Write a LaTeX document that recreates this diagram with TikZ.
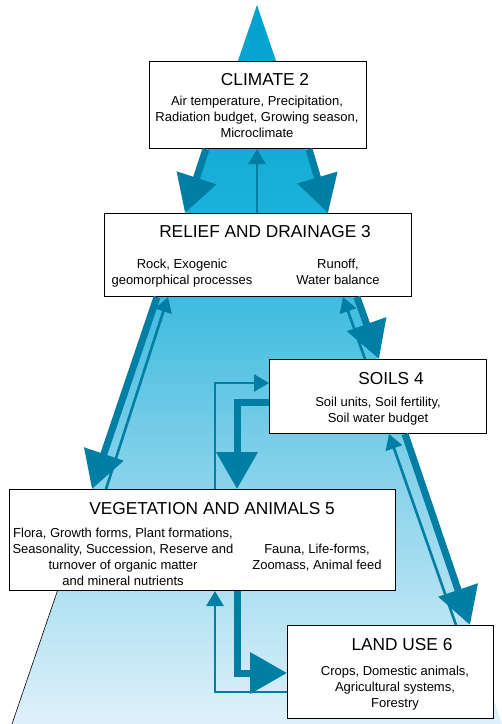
\documentclass[tikz,border=0pt]{standalone}
\usepackage{fontspec}
\setmainfont{Liberation Sans}
\usetikzlibrary{arrows.meta,calc}
\definecolor{arr}{RGB}{0,126,163}
\definecolor{topc}{RGB}{0,160,206}
\definecolor{upc}{RGB}{30,178,218}
\definecolor{midc}{RGB}{120,205,232}
\definecolor{botc}{RGB}{222,241,250}
\pgfdeclareverticalshading{trishade}{100bp}{color(0bp)=(botc); color(25bp)=(botc); color(45bp)=(midc); color(60bp)=(upc); color(75bp)=(topc); color(100bp)=(topc)}
\tikzset{
  box/.style={draw=black, line width=1pt, fill=white, rectangle, inner sep=0pt, anchor=north west},
  ttl/.style={font=\fontsize{17.3}{20}\selectfont, anchor=base, inner sep=0pt},
  txt/.style={font=\fontsize{13}{16}\selectfont, align=center, anchor=north, inner sep=0pt},
  bigarrow/.style={draw=arr, line width=7pt, -{Triangle[width=40pt,length=37pt]}},
  smallarrow/.style={draw=arr, line width=2.6pt, -{Triangle[width=17pt,length=15pt]}}
}
\begin{document}
\begin{tikzpicture}[x=1pt,y=-1pt]
\useasboundingbox (0,0) rectangle (502,724);
% background triangle
\shade[shading=trishade] (257,5) -- (12,724) -- (502,724) -- cycle;
\draw[line width=0.6pt] (57.7,590) -- (12,724);
% boxes
\node[box, minimum width=217pt, minimum height=87pt] (climate) at (149,61) {};
\node[box, minimum width=307pt, minimum height=83pt] (relief) at (104,213) {};
\node[box, minimum width=217pt, minimum height=74pt] (soils) at (269,359) {};
\node[box, minimum width=386pt, minimum height=101pt] (veg) at (9,489) {};
\node[box, minimum width=206pt, minimum height=93pt] (land) at (287,625) {};
% texts
\node[ttl] (climateT) at (265,85) {CLIMATE 2};
\node[txt] (climateB) at (257,95) {\rule{0pt}{10pt}Air temperature, Precipitation,\\Radiation budget, Growing season,\\Microclimate};
\node[ttl] (reliefT) at (265,237) {RELIEF AND DRAINAGE 3};
\node[txt] (reliefL) at (182,258) {\rule{0pt}{10pt}Rock, Exogenic\\geomorphical processes};
\node[txt] (reliefR) at (338,258) {\rule{0pt}{10pt}Runoff,\\Water balance};
\node[ttl] (soilsT) at (391,384) {SOILS 4};
\node[txt] (soilsB) at (378,396) {\rule{0pt}{10pt}Soil units, Soil fertility,\\Soil water budget};
\node[ttl] (vegT) at (212,514) {VEGETATION AND ANIMALS 5};
\node[txt] (vegL) at (123,527) {\rule{0pt}{10pt}Flora, Growth forms, Plant formations,\\Seasonality, Succession, Reserve and\\turnover of organic matter\\and mineral nutrients};
\node[txt] (vegR) at (317,543) {\rule{0pt}{10pt}Fauna, Life-forms,\\Zoomass, Animal feed};
\node[ttl] (landT) at (402,650) {LAND USE 6};
\node[txt] (landB) at (395,665) {\rule{0pt}{10pt}Crops, Domestic animals,\\Agricultural systems,\\Forestry};
% climate <-> relief
\draw[bigarrow] ($(climate.south west)+(57,0)$) -- ($(relief.north west)+(81,0)$);
\draw[bigarrow] ($(climate.south west)+(160,0)$) -- ($(relief.north west)+(224,0)$);
\draw[smallarrow] ($(relief.north west)+(153,0)$) -- ($(climate.south west)+(108,0)$);
% relief <-> vegetation
\draw[bigarrow] ($(relief.south west)+(53,0)$) -- ($(veg.north west)+(83,0)$);
\draw[smallarrow] ($(veg.north west)+(97,0)$) -- ($(relief.south west)+(64,0)$);
% relief <-> soils
\draw[bigarrow] ($(relief.south west)+(253,0)$) -- ($(soils.north west)+(110,0)$);
\draw[smallarrow] ($(soils.north west)+(96,0)$) -- ($(relief.south west)+(239,0)$);
% soils <-> land use
\draw[bigarrow] ($(soils.south west)+(136,0)$) -- ($(land.north west)+(183,0)$);
\draw[smallarrow] ($(land.north west)+(169,0)$) -- ($(soils.south west)+(120,0)$);
% soils <-> vegetation
\draw[smallarrow] ($(veg.north west)+(206,0)$) |- ($(soils.north west)+(0,24)$);
\draw[bigarrow] ($(soils.north west)+(0,43)$) -| ($(veg.north west)+(228,0)$);
% vegetation <-> land use
\draw[smallarrow] ($(land.north west)+(0,67)$) -| ($(veg.south west)+(206,0)$);
\draw[bigarrow] ($(veg.south west)+(228,0)$) |- ($(land.north west)+(0,48)$);
\end{tikzpicture}
\end{document}
